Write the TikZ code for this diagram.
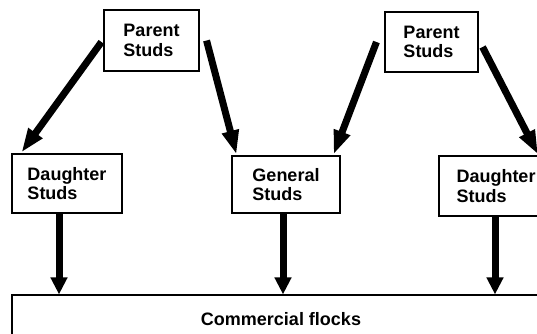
\documentclass[tikz,border=0pt]{standalone}
\usepackage{fontspec}
\setmainfont{Liberation Sans}
\usetikzlibrary{arrows.meta}
\begin{document}
\begin{tikzpicture}[x=1pt,y=1pt]
\tikzset{
  box/.style={draw, line width=1.1pt, align=left, inner sep=0pt,
    font=\bfseries\fontsize{18}{19.5}\selectfont},
  arr/.style={line width=7pt, -{Triangle[length=17pt,width=16pt]}},
  darr/.style={line width=7pt, -{Triangle[length=24pt,width=16pt]}}
}
\clip (0,0) rectangle (537,333);
\fill[white] (0,0) rectangle (537,333);
\node[box, minimum width=95pt, minimum height=61pt] (p1) at (151.5,292.5) {Parent\\Studs};
\node[box, minimum width=93pt, minimum height=60pt] (p2) at (431.5,291) {Parent\\Studs};
\node[box, minimum width=110pt, minimum height=59pt] (d1) at (67,149.5) {Daughter\\Studs};
\node[box, minimum width=108pt, minimum height=57pt] (g) at (286,148.5) {General\\Studs};
\node[box, minimum width=114pt, minimum height=60pt] (d2) at (496,147) {Daughter\\Studs};
\node[box, minimum width=538pt, minimum height=48pt] (cf) at (281,14) {Commercial flocks};
\draw[darr] ([shift={(-2pt,-1.5pt)}]p1.west) -- ([shift={(10pt,1pt)}]d1.north west);
\draw[darr] ([shift={(7pt,0pt)}]p1.east) -- ([shift={(5pt,1pt)}]g.north west);
\draw[darr] ([shift={(-8pt,0pt)}]p2.west) -- ([shift={(-7pt,1pt)}]g.north east);
\draw[darr] ([shift={(4pt,-5pt)}]p2.east) -- ([shift={(42pt,1pt)}]d2.north);
\draw[arr] ([xshift=-8pt]d1.south) -- ([xshift=-8pt]d1.south |- cf.north);
\draw[arr] ([xshift=-3pt]g.south) -- ([xshift=-3pt]g.south |- cf.north);
\draw[arr] ([xshift=-1pt]d2.south) -- ([xshift=-1pt]d2.south |- cf.north);
\end{tikzpicture}
\end{document}
